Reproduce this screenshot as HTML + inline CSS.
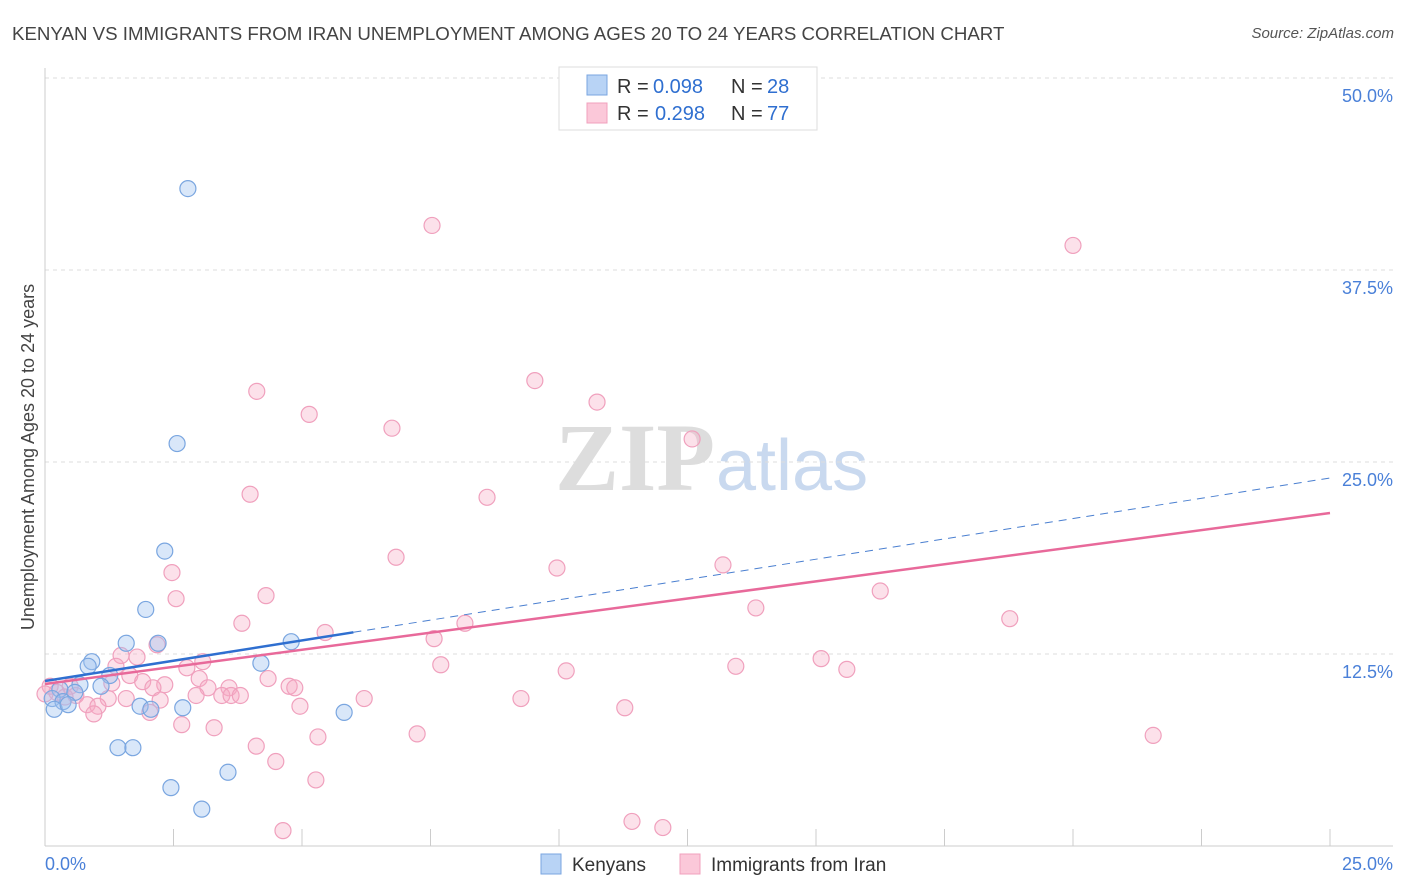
<!DOCTYPE html>
<html><head><meta charset="utf-8">
<style>
body{margin:0;background:#fff;font-family:"Liberation Sans",sans-serif;}
#wrap{position:relative;width:1406px;height:892px;overflow:hidden;}
.t{position:absolute;white-space:nowrap;}
</style></head>
<body>
<div id="wrap">
<div class="t" style="left:12px;top:23px;font-size:18.7px;color:#444;">KENYAN VS IMMIGRANTS FROM IRAN UNEMPLOYMENT AMONG AGES 20 TO 24 YEARS CORRELATION CHART</div>
<div class="t" style="right:12px;top:25px;font-size:15px;color:#555;font-style:italic;">Source: ZipAtlas.com</div>
<svg id="svg" width="1406" height="892" style="position:absolute;left:0;top:0"></svg>
</div>
<script>
const yTicks=[12.5,25.0,37.5,50.0];
const yTickLabels=["12.5%","25.0%","37.5%","50.0%"];
const kenX=[2.78,2.57,2.33,1.96,1.58,2.20,4.79,4.2,0.91,0.84,1.26,0.68,1.09,0.29,0.58,0.14,0.35,0.18,0.45,1.85,2.06,2.68,5.82,1.42,1.71,3.56,2.45,3.05];
const kenY=[42.8,26.2,19.2,15.4,13.2,13.2,13.3,11.9,12.0,11.7,11.1,10.5,10.4,10.2,10.0,9.6,9.4,8.9,9.2,9.1,8.9,9.0,8.7,6.4,6.4,4.8,3.8,2.4];
const iraX=[7.53,20.0,9.53,4.12,10.74,5.14,6.75,12.59,3.99,8.6,6.83,9.96,13.19,2.47,2.55,4.3,16.25,13.83,18.77,3.83,8.17,5.45,7.57,2.18,1.48,1.79,15.1,3.07,2.76,1.38,7.7,13.44,15.6,10.14,1.65,3.0,1.9,4.34,2.33,2.1,3.17,3.58,4.75,4.86,0.1,0.49,0.23,0.6,2.94,3.44,3.62,1.58,1.23,6.21,9.26,0.82,1.03,4.96,11.28,2.04,0.95,2.66,3.29,5.31,7.24,21.56,4.11,4.49,5.27,11.42,12.02,4.63,0.0,0.39,1.3,2.24,3.8];
const iraY=[40.4,39.1,30.3,29.6,28.9,28.1,27.2,26.5,22.9,22.7,18.8,18.1,18.3,17.8,16.1,16.3,16.6,15.5,14.8,14.5,14.5,13.9,13.5,13.1,12.4,12.3,12.2,12.0,11.6,11.7,11.8,11.7,11.5,11.4,11.1,10.9,10.7,10.9,10.5,10.3,10.3,10.3,10.4,10.3,10.4,10.4,10.0,9.8,9.8,9.8,9.8,9.6,9.6,9.6,9.6,9.2,9.1,9.1,9.0,8.7,8.6,7.9,7.7,7.1,7.3,7.2,6.5,5.5,4.3,1.6,1.2,1.0,9.9,9.7,10.6,9.5,9.8];
const kenTrend=[10.74,23.96];
const iraTrend=[10.55,21.68];
const kenSolidEnd=6.0;
const X=v=>45+v*51.4, Y=v=>846-v*15.36;
const svg=document.getElementById('svg');const NS='http://www.w3.org/2000/svg';
function mk(tag,at,name){const e=document.createElementNS(NS,tag);for(const k in at)e.setAttribute(k,at[k]);


svg.appendChild(e);return e;}
let w=mk('text',{x:555,y:490,'font-size':96,'font-family':'Liberation Serif',fill:'#ddd','font-weight':'bold'},'watermark-zip');w.textContent='ZIP';
w=mk('text',{x:716,y:490,'font-size':72,'font-family':'Liberation Sans',fill:'#c9d9ef'},'watermark-atlas');w.textContent='atlas';
yTicks.forEach((t,i)=>{mk('line',{x1:45,x2:1393,y1:Y(t),y2:Y(t),stroke:'#ddd','stroke-dasharray':'4,4'},'gridline');
let l=mk('text',{x:1393,y:Y(t)+24,'text-anchor':'end','font-size':18,fill:'#4a80d8'},'y-tick-label');l.textContent=yTickLabels[i];});
mk('line',{x1:45,x2:45,y1:68,y2:846,stroke:'#ccc'},'y-axis');
mk('line',{x1:45,x2:1393,y1:846,y2:846,stroke:'#ccc'},'x-axis');
for(let i=1;i<=10;i++)mk('line',{x1:X(i*2.5),x2:X(i*2.5),y1:829,y2:846,stroke:'#ccc'},'x-tick');
let t=mk('text',{x:45,y:870,'font-size':18,fill:'#4a80d8'},'x-tick-label');t.textContent='0.0%';
t=mk('text',{x:1393,y:870,'text-anchor':'end','font-size':18,fill:'#4a80d8'},'x-tick-label');t.textContent='25.0%';
t=mk('text',{x:34,y:457,'text-anchor':'middle','font-size':18,fill:'#444',transform:'rotate(-90 34 457)'},'y-axis-title');t.textContent='Unemployment Among Ages 20 to 24 years';
iraX.forEach((x,i)=>mk('circle',{cx:X(x),cy:Y(iraY[i]),r:8,fill:'rgba(247,168,196,0.35)',stroke:'#f0a0bd','stroke-width':1.2},'iran-point'));
kenX.forEach((x,i)=>mk('circle',{cx:X(x),cy:Y(kenY[i]),r:8,fill:'rgba(160,195,240,0.4)',stroke:'#7aa6e0','stroke-width':1.2},'kenyan-point'));
const kv=x=>kenTrend[0]+(kenTrend[1]-kenTrend[0])*x/25;
mk('line',{x1:X(0),y1:Y(kenTrend[0]),x2:X(kenSolidEnd),y2:Y(kv(kenSolidEnd)),stroke:'#2f6fd0','stroke-width':2.5},'kenyan-trend-line');
mk('line',{x1:X(kenSolidEnd),y1:Y(kv(kenSolidEnd)),x2:X(25),y2:Y(kenTrend[1]),stroke:'#4a7fd0','stroke-width':1,'stroke-dasharray':'8,6'},'kenyan-trend-extension');
mk('line',{x1:X(0),y1:Y(iraTrend[0]),x2:X(25),y2:Y(iraTrend[1]),stroke:'#e8699a','stroke-width':2.5},'iran-trend-line');
mk('rect',{x:559,y:67,width:258,height:63,fill:'#fff',stroke:'#ddd'},'legend-box');
mk('rect',{x:587,y:75,width:20,height:20,fill:'#b8d3f5',stroke:'#7aa6e0'},'legend-swatch-kenyan');
mk('rect',{x:587,y:103,width:20,height:20,fill:'#fbc8d9',stroke:'#f0a0bd'},'legend-swatch-iran');
function tx(x,y,s,c,name){const e=mk('text',{x:x,y:y,'font-size':20,fill:c},name);e.textContent=s;}
tx(617,93,'R =','#333','legend-r-label');tx(653,93,'0.098','#2f6fd0','legend-r-kenyan');
tx(731,93,'N =','#333','legend-n-label');tx(767,93,'28','#2f6fd0','legend-n-kenyan');
tx(617,120,'R =','#333','legend-r-label');tx(655,120,'0.298','#2f6fd0','legend-r-iran');
tx(731,120,'N =','#333','legend-n-label');tx(767,120,'77','#2f6fd0','legend-n-iran');
mk('rect',{x:541,y:854,width:20,height:20,fill:'#b8d3f5',stroke:'#7aa6e0'},'bottom-legend-swatch-kenyan');
t=mk('text',{x:572,y:871,'font-size':19,fill:'#333'},'bottom-legend-kenyans');t.textContent='Kenyans';
mk('rect',{x:680,y:854,width:20,height:20,fill:'#fbc8d9',stroke:'#f0a0bd'},'bottom-legend-swatch-iran');
t=mk('text',{x:711,y:871,'font-size':19,fill:'#333'},'bottom-legend-iran');t.textContent='Immigrants from Iran';
</script>
</body></html>
